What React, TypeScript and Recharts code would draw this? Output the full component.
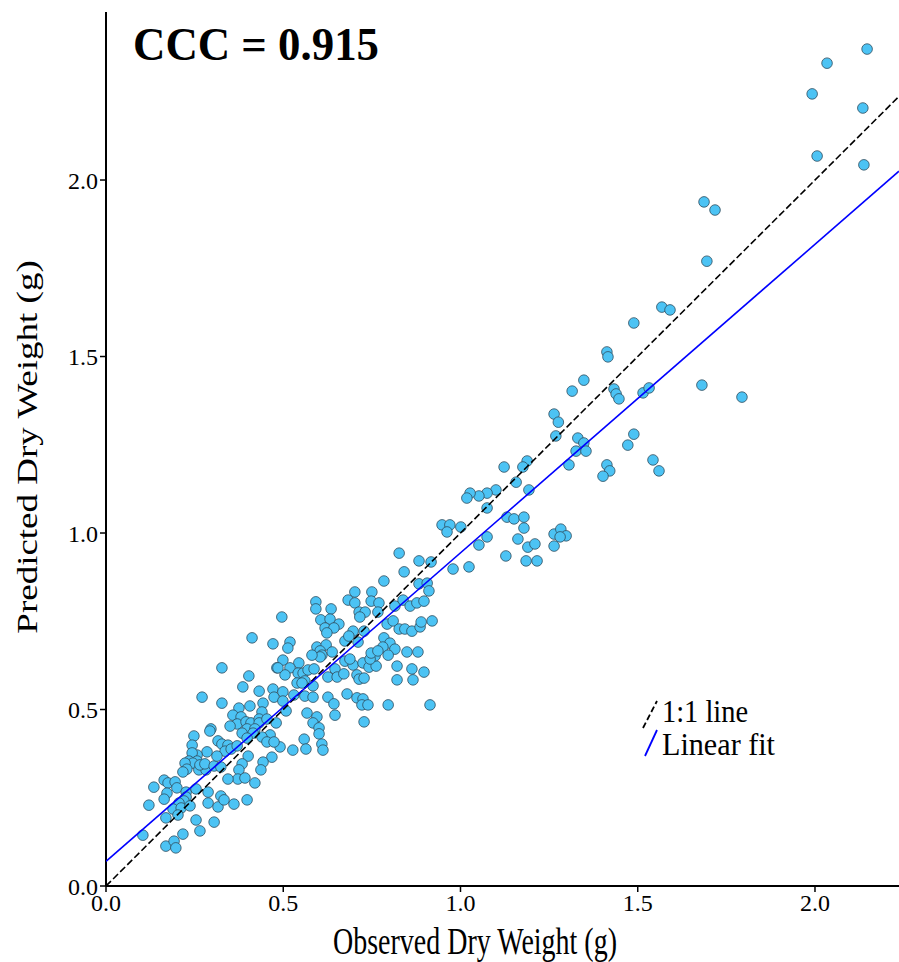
import React from 'react';
import { ScatterChart, Scatter, XAxis, YAxis } from 'recharts';

const observed = [
  2.147, 2.034, 1.992, 2.135, 2.006, 2.138, 1.687, 1.718, 1.695, 1.568, 1.591, 1.489,
  1.413, 1.416, 1.348, 1.315, 1.433, 1.439, 1.447, 1.515, 1.532, 1.681, 1.794, 1.264,
  1.276, 1.269, 1.331, 1.348, 1.326, 1.354, 1.489, 1.472, 1.306, 1.413, 1.421, 1.402,
  1.543, 1.560,
  1.188, 1.176, 1.123, 1.157, 1.193, 1.100, 1.075, 1.052, 1.027, 1.018, 1.075, 1.131,
  1.151, 1.179, 1.179, 1.162, 1.075, 1.052, 1.128, 1.190, 1.210, 1.185, 1.216, 1.264,
  1.283, 1.298, 1.281, 1.264, 0.948, 0.970, 0.962, 1.001, 0.979, 1.024,
  0.827, 0.883, 0.917,
  0.841, 0.784, 0.883, 0.906, 0.911, 0.702, 0.683, 0.702, 0.750, 0.748, 0.770, 0.592,
  0.592, 0.635, 0.714, 0.731, 0.716, 0.767, 0.815, 0.838, 0.858, 0.877, 0.897, 0.496,
  0.606, 0.632, 0.657, 0.618, 0.643, 0.623, 0.697, 0.728, 0.674, 0.685, 0.711, 0.793,
  0.810, 0.827, 0.843, 0.863, 0.886, 0.889, 0.920, 0.784, 0.801, 0.781, 0.815, 0.796,
  0.849, 0.880, 0.471, 0.519, 0.513, 0.595, 0.621, 0.604, 0.609, 0.604, 0.581, 0.638,
  0.499, 0.544, 0.482, 0.519, 0.505, 0.542, 0.556, 0.570, 0.587, 0.561, 0.539, 0.553,
  0.584, 0.646, 0.626, 0.652, 0.671, 0.674, 0.697, 0.688, 0.708, 0.714, 0.728, 0.725,
  0.742, 0.762, 0.759, 0.745, 0.748, 0.767, 0.821, 0.863, 0.897, 0.821, 0.866, 0.471,
  0.474, 0.499, 0.499, 0.530, 0.561, 0.584, 0.626, 0.643, 0.680, 0.708, 0.725, 0.722,
  0.739, 0.796, 0.914,
  0.567, 0.595, 0.584, 0.601, 0.601, 0.609, 0.612, 0.646, 0.728, 0.508, 0.480, 0.463,
  0.559, 0.491, 0.527, 0.564, 0.468,
  0.412, 0.327, 0.403, 0.485, 0.386, 0.432, 0.271, 0.327, 0.406, 0.443, 0.440, 0.375,
  0.358, 0.381, 0.370, 0.350, 0.395, 0.409, 0.432, 0.432, 0.454, 0.296, 0.398, 0.420,
  0.293, 0.248, 0.243, 0.316, 0.327, 0.344, 0.336, 0.353, 0.370, 0.384, 0.415, 0.398,
  0.440, 0.454, 0.474, 0.285, 0.257, 0.243, 0.234, 0.257, 0.245, 0.223, 0.228, 0.217,
  0.262, 0.282, 0.265, 0.279, 0.305, 0.324, 0.313, 0.401, 0.384, 0.375, 0.372, 0.392,
  0.443, 0.437, 0.420, 0.344, 0.135, 0.164, 0.175, 0.195, 0.200, 0.172, 0.164, 0.121,
  0.226, 0.226, 0.220, 0.206, 0.189, 0.212, 0.203, 0.237, 0.254, 0.288, 0.288, 0.316,
  0.324, 0.333, 0.361, 0.398, 0.169, 0.254, 0.305, 0.265, 0.104, 0.217, 0.169, 0.192,
  0.197,
];

const predicted = [
  2.371, 2.331, 2.244, 2.204, 2.068, 2.043, 1.938, 1.915, 1.770, 1.640, 1.632, 1.595,
  1.513, 1.499, 1.433, 1.402, 1.408, 1.394, 1.380, 1.397, 1.411, 1.419, 1.385, 1.337,
  1.314, 1.275, 1.269, 1.255, 1.232, 1.232, 1.280, 1.249, 1.193, 1.193, 1.176, 1.161,
  1.207, 1.176,
  1.204, 1.187, 1.187, 1.144, 1.122, 1.122, 1.113, 1.105, 1.113, 1.099, 1.071, 1.045,
  1.040, 1.045, 1.014, 0.983, 0.989, 0.966, 0.935, 0.960, 0.969, 0.921, 0.921, 0.997,
  1.011, 0.992, 0.989, 0.963, 1.023, 1.023, 1.003, 1.017, 0.898, 0.904,
  0.943, 0.921, 0.918,
  0.890, 0.864, 0.856, 0.858, 0.836, 0.833, 0.810, 0.802, 0.833, 0.807, 0.802, 0.805,
  0.785, 0.785, 0.776, 0.776, 0.762, 0.776, 0.793, 0.810, 0.793, 0.802, 0.807, 0.762,
  0.754, 0.756, 0.742, 0.731, 0.731, 0.717, 0.722, 0.722, 0.694, 0.708, 0.691, 0.742,
  0.751, 0.728, 0.728, 0.722, 0.734, 0.748, 0.751, 0.703, 0.688, 0.677, 0.671, 0.654,
  0.663, 0.663, 0.686, 0.691, 0.674, 0.677, 0.683, 0.666, 0.654, 0.649, 0.654, 0.663,
  0.640, 0.632, 0.618, 0.618, 0.598, 0.603, 0.603, 0.612, 0.615, 0.581, 0.575, 0.575,
  0.567, 0.615, 0.592, 0.592, 0.601, 0.637, 0.626, 0.643, 0.598, 0.586, 0.589, 0.632,
  0.620, 0.623, 0.652, 0.643, 0.660, 0.666, 0.623, 0.615, 0.606, 0.584, 0.584, 0.558,
  0.535, 0.550, 0.524, 0.541, 0.538, 0.535, 0.535, 0.516, 0.544, 0.533, 0.530, 0.513,
  0.513, 0.513, 0.513,
  0.490, 0.479, 0.462, 0.448, 0.431, 0.402, 0.385, 0.484, 0.465, 0.496, 0.462, 0.428,
  0.416, 0.394, 0.385, 0.388, 0.365,
  0.703, 0.618, 0.595, 0.618, 0.564, 0.552, 0.535, 0.518, 0.510, 0.518, 0.493, 0.504,
  0.484, 0.479, 0.459, 0.453, 0.465, 0.462, 0.473, 0.462, 0.473, 0.445, 0.445, 0.445,
  0.439, 0.425, 0.399, 0.411, 0.402, 0.399, 0.382, 0.388, 0.397, 0.433, 0.433, 0.419,
  0.422, 0.408, 0.408, 0.380, 0.371, 0.377, 0.354, 0.354, 0.348, 0.348, 0.331, 0.323,
  0.329, 0.329, 0.343, 0.346, 0.340, 0.337, 0.368, 0.368, 0.346, 0.329, 0.303, 0.306,
  0.351, 0.329, 0.292, 0.303, 0.280, 0.300, 0.292, 0.295, 0.278, 0.263, 0.246, 0.229,
  0.266, 0.252, 0.241, 0.235, 0.218, 0.221, 0.201, 0.227, 0.275, 0.266, 0.235, 0.224,
  0.255, 0.244, 0.232, 0.244, 0.193, 0.187, 0.181, 0.156, 0.144, 0.147, 0.113, 0.127,
  0.108,
];

const points = observed.map((x, i) => ({ x, y: predicted[i] }));

// 1:1 line and fitted line end points (fit)
const identityLine = [{ x: 0, y: 0 }, { x: 2.237, y: 2.237 }];
const fitLine = [{ x: 0, y: 0.07 }, { x: 2.237, y: 2.025 }];

const xTicks = [0, 0.5, 1.0, 1.5, 2.0];
const yTicks = [0, 0.5, 1.0, 1.5, 2.0];

const serif = '"Liberation Serif", "Times New Roman", serif';

const Dot = (props: any) => (
  <circle cx={props.cx} cy={props.cy} r={5.3} fill="#4CC3F4" stroke="#2f4c5e" strokeWidth={0.8} />
);
const NoDot = () => <g />;

const XLabel = () => (
  <text x={333} y={954} fontSize={37} fontFamily={serif} fill="#000" textLength={284} lengthAdjust="spacingAndGlyphs">
    Observed Dry Weight (g)
  </text>
);

const YLabel = () => (
  <text
    transform="translate(37,447) scale(0.8,1) rotate(-90)"
    x={0}
    y={0}
    textAnchor="middle"
    fontSize={37}
    fontFamily={serif}
    fill="#000"
  >
    Predicted Dry Weight (g)
  </text>
);

export default function App() {
  return (
    <div style={{ position: 'absolute', left: 0, top: 0, width: 899, height: 962, background: '#fff' }}>
      <ScatterChart width={899} height={962} margin={{ top: 12, right: 0, bottom: 0, left: 0 }}>
        <XAxis
          type="number"
          dataKey="x"
          domain={[0, 2.237]}
          ticks={xTicks}
          allowDataOverflow
          height={76}
          tickFormatter={(v: number) => v.toFixed(1)}
          axisLine={{ stroke: '#000', strokeWidth: 2 }}
          tickLine={{ stroke: '#000', strokeWidth: 1.5 }}
          tickSize={6}
          tick={{ fill: '#000', fontSize: 24, fontFamily: serif }}
          label={<XLabel />}
        />
        <YAxis
          type="number"
          dataKey="y"
          domain={[0, 2.476]}
          ticks={yTicks}
          allowDataOverflow
          width={106}
          tickFormatter={(v: number) => v.toFixed(1)}
          axisLine={{ stroke: '#000', strokeWidth: 2 }}
          tickLine={{ stroke: '#000', strokeWidth: 1.5 }}
          tickSize={6}
          tick={{ fill: '#000', fontSize: 24, fontFamily: serif }}
          label={<YLabel />}
        />
        <Scatter data={points} shape={Dot} isAnimationActive={false} />
        <Scatter
          data={identityLine}
          line={{ stroke: '#000', strokeWidth: 1.6, strokeDasharray: '7 3' }}
          shape={NoDot}
          isAnimationActive={false}
        />
        <Scatter
          data={fitLine}
          line={{ stroke: '#0000ff', strokeWidth: 1.6 }}
          shape={NoDot}
          isAnimationActive={false}
        />
      </ScatterChart>
      <svg width={899} height={962} style={{ position: 'absolute', left: 0, top: 0, pointerEvents: 'none' }}>
        <text x={133} y={60} fontSize={46} fontWeight="bold" fontFamily={serif} fill="#000" textLength={246} lengthAdjust="spacingAndGlyphs">
          CCC = 0.915
        </text>
        <line x1={643} y1={728} x2={657} y2={701} stroke="#000" strokeWidth={1.8} strokeDasharray="6 3" />
        <text x={662} y={722} fontSize={32} fontFamily={serif} fill="#000" textLength={86} lengthAdjust="spacingAndGlyphs">
          1:1 line
        </text>
        <line x1={645} y1={756} x2={657} y2={730} stroke="#0000ff" strokeWidth={1.8} />
        <text x={662} y={755} fontSize={32} fontFamily={serif} fill="#000" textLength={113} lengthAdjust="spacingAndGlyphs">
          Linear fit
        </text>
      </svg>
    </div>
  );
}
